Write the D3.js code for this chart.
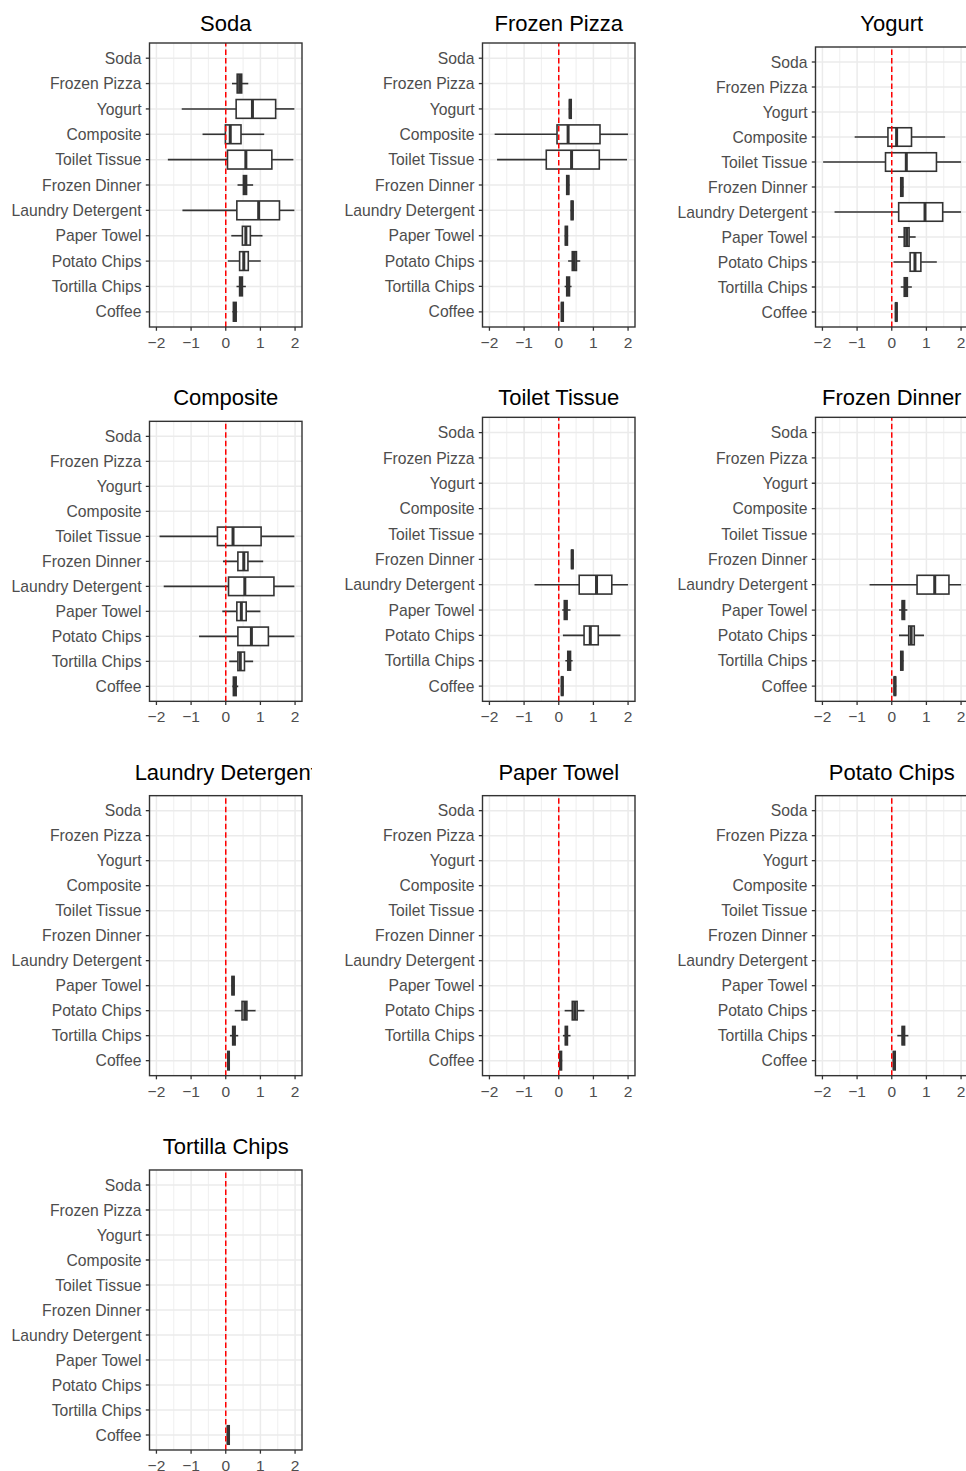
<!DOCTYPE html>
<html>
<head>
<meta charset="utf-8">
<script src="https://cdn.jsdelivr.net/npm/d3@7"></script>
<style>
  html, body { margin: 0; padding: 0; background: #ffffff; }
  svg { display: block; }
</style>
</head>
<body>
<div id="chart"></div>
<script>
// Categories shown on every panel's y axis, top to bottom
const products = ["Soda", "Frozen Pizza", "Yogurt", "Composite", "Toilet Tissue",
  "Frozen Dinner", "Laundry Detergent", "Paper Towel", "Potato Chips",
  "Tortilla Chips", "Coffee"];

// Panel titles, in reading order
const panelTitles = ["Soda", "Frozen Pizza", "Yogurt", "Composite", "Toilet Tissue",
  "Frozen Dinner", "Laundry Detergent", "Paper Towel", "Potato Chips", "Tortilla Chips"];

const xTicks = [-2, -1, 0, 1, 2];
const xMinor = [-1.5, -0.5, 0.5, 1.5];

// Box statistics per panel: [category, lower whisker, Q1, median, Q3, upper whisker]
const sodaStats = [
  ["Frozen Pizza", 0.18, 0.33, 0.40, 0.46, 0.65],
  ["Yogurt", -1.27, 0.30, 0.77, 1.44, 1.98],
  ["Composite", -0.67, -0.01, 0.13, 0.44, 1.11],
  ["Toilet Tissue", -1.67, 0.05, 0.58, 1.33, 1.95],
  ["Frozen Dinner", 0.34, 0.51, 0.56, 0.60, 0.79],
  ["Laundry Detergent", -1.25, 0.32, 0.95, 1.55, 1.98],
  ["Paper Towel", 0.16, 0.48, 0.58, 0.71, 1.06],
  ["Potato Chips", 0.06, 0.40, 0.52, 0.65, 1.01],
  ["Tortilla Chips", 0.31, 0.40, 0.44, 0.48, 0.58],
  ["Coffee", 0.19, 0.22, 0.26, 0.30, 0.33]
];
const frozenPizzaStats = [
  ["Yogurt", 0.29, 0.31, 0.33, 0.36, 0.38],
  ["Composite", -1.85, -0.05, 0.27, 1.19, 2.00],
  ["Toilet Tissue", -1.78, -0.36, 0.37, 1.17, 1.97],
  ["Frozen Dinner", 0.21, 0.23, 0.26, 0.29, 0.31],
  ["Laundry Detergent", 0.34, 0.36, 0.39, 0.41, 0.43],
  ["Paper Towel", 0.17, 0.19, 0.22, 0.25, 0.27],
  ["Potato Chips", 0.27, 0.39, 0.45, 0.51, 0.62],
  ["Tortilla Chips", 0.17, 0.23, 0.27, 0.31, 0.37],
  ["Coffee", 0.06, 0.08, 0.10, 0.13, 0.15]
];
const yogurtStats = [
  ["Composite", -1.07, -0.11, 0.14, 0.57, 1.54],
  ["Toilet Tissue", -1.98, -0.18, 0.42, 1.29, 2.00],
  ["Frozen Dinner", 0.24, 0.26, 0.29, 0.32, 0.34],
  ["Laundry Detergent", -1.65, 0.20, 0.96, 1.47, 2.00],
  ["Paper Towel", 0.18, 0.36, 0.43, 0.50, 0.69],
  ["Potato Chips", 0.05, 0.53, 0.67, 0.84, 1.30],
  ["Tortilla Chips", 0.26, 0.36, 0.40, 0.45, 0.58],
  ["Coffee", 0.09, 0.11, 0.13, 0.15, 0.17]
];
const compositeStats = [
  ["Toilet Tissue", -1.91, -0.24, 0.21, 1.02, 1.98],
  ["Frozen Dinner", -0.08, 0.35, 0.52, 0.64, 1.08],
  ["Laundry Detergent", -1.79, 0.08, 0.55, 1.39, 1.98],
  ["Paper Towel", -0.10, 0.32, 0.45, 0.59, 1.00],
  ["Potato Chips", -0.77, 0.35, 0.74, 1.23, 1.98],
  ["Tortilla Chips", 0.10, 0.35, 0.42, 0.54, 0.79],
  ["Coffee", 0.19, 0.22, 0.26, 0.30, 0.36]
];
const toiletTissueStats = [
  ["Frozen Dinner", 0.35, 0.37, 0.39, 0.41, 0.43],
  ["Laundry Detergent", -0.70, 0.59, 1.09, 1.53, 2.00],
  ["Paper Towel", 0.10, 0.16, 0.20, 0.24, 0.34],
  ["Potato Chips", 0.12, 0.73, 0.91, 1.14, 1.78],
  ["Tortilla Chips", 0.19, 0.26, 0.30, 0.34, 0.40],
  ["Coffee", 0.06, 0.08, 0.10, 0.12, 0.14]
];
const frozenDinnerStats = [
  ["Laundry Detergent", -0.64, 0.73, 1.24, 1.65, 2.00],
  ["Paper Towel", 0.21, 0.30, 0.33, 0.37, 0.45],
  ["Potato Chips", 0.21, 0.49, 0.56, 0.65, 0.93],
  ["Tortilla Chips", 0.24, 0.26, 0.29, 0.32, 0.34],
  ["Coffee", 0.05, 0.07, 0.09, 0.11, 0.13]
];
const laundryDetergentStats = [
  ["Paper Towel", 0.16, 0.18, 0.21, 0.24, 0.26],
  ["Potato Chips", 0.26, 0.47, 0.55, 0.61, 0.86],
  ["Tortilla Chips", 0.12, 0.20, 0.23, 0.27, 0.36],
  ["Coffee", 0.04, 0.06, 0.08, 0.10, 0.12]
];
const paperTowelStats = [
  ["Potato Chips", 0.17, 0.39, 0.46, 0.53, 0.74],
  ["Tortilla Chips", 0.12, 0.19, 0.22, 0.25, 0.34],
  ["Coffee", 0.01, 0.03, 0.05, 0.08, 0.10]
];
const potatoChipsStats = [
  ["Tortilla Chips", 0.16, 0.30, 0.33, 0.37, 0.48],
  ["Coffee", 0.03, 0.05, 0.07, 0.10, 0.12]
];
const tortillaChipsStats = [
  ["Coffee", 0.03, 0.05, 0.07, 0.10, 0.12]
];

const panelStats = [sodaStats, frozenPizzaStats, yogurtStats, compositeStats,
  toiletTissueStats, frozenDinnerStats, laundryDetergentStats, paperTowelStats,
  potatoChipsStats, tortillaChipsStats];

// ---- layout ----
const W = 966, H = 1471;
const colStep = 333, rowStep = 374.33;
const cellWidth = 312;
const panelLeft = 149.5, panelWidth = 152.5;
const panelBottom = 327;
const fontFamily = "'Liberation Sans', Arial, Helvetica, sans-serif";
const ink = "#333333", labelInk = "#4D4D4D", gridInk = "#EBEBEB";

const svg = d3.select("#chart").append("svg")
  .attr("width", W).attr("height", H)
  .attr("viewBox", `0 0 ${W} ${H}`);
svg.append("rect").attr("width", W).attr("height", H).attr("fill", "#ffffff");

const defs = svg.append("defs");

// titles with descenders are taller, which shortens the panel a little
const hasDescender = t => /[gjpqy]/.test(t);

panelTitles.forEach((title, i) => {
  const col = i % 3, row = Math.floor(i / 3);
  const ox = col * colStep, oy = row * rowStep;
  const top = oy + (hasDescender(title) ? 47 : 43);
  const bottom = oy + panelBottom;
  const left = ox + panelLeft, right = left + panelWidth;

  defs.append("clipPath").attr("id", "cell" + i)
    .append("rect").attr("x", ox).attr("y", oy).attr("width", cellWidth).attr("height", rowStep);

  const g = svg.append("g").attr("clip-path", `url(#cell${i})`);

  const x = d3.scaleLinear().domain([-2.2, 2.2]).range([left, right]);
  const y = d3.scalePoint().domain(products).range([top, bottom]).padding(0.6);
  const step = y.step();

  // grid
  g.append("g").selectAll("line").data(xMinor).join("line")
    .attr("x1", d => x(d)).attr("x2", d => x(d))
    .attr("y1", top).attr("y2", bottom)
    .attr("stroke", gridInk).attr("stroke-width", 0.8);
  g.append("g").selectAll("line").data(xTicks).join("line")
    .attr("x1", d => x(d)).attr("x2", d => x(d))
    .attr("y1", top).attr("y2", bottom)
    .attr("stroke", gridInk).attr("stroke-width", 1.5);
  g.append("g").selectAll("line").data(products).join("line")
    .attr("x1", left).attr("x2", right)
    .attr("y1", d => y(d)).attr("y2", d => y(d))
    .attr("stroke", gridInk).attr("stroke-width", 1.5);

  // boxplots
  const half = step * 0.37;
  const boxes = g.append("g").selectAll("g").data(panelStats[i]).join("g");
  boxes.append("line")
    .attr("x1", d => x(d[1])).attr("x2", d => x(d[2]))
    .attr("y1", d => y(d[0])).attr("y2", d => y(d[0]))
    .attr("stroke", ink).attr("stroke-width", 1.6);
  boxes.append("line")
    .attr("x1", d => x(d[4])).attr("x2", d => x(d[5]))
    .attr("y1", d => y(d[0])).attr("y2", d => y(d[0]))
    .attr("stroke", ink).attr("stroke-width", 1.6);
  boxes.append("rect")
    .attr("x", d => x(d[2])).attr("width", d => x(d[4]) - x(d[2]))
    .attr("y", d => y(d[0]) - half).attr("height", 2 * half)
    .attr("fill", "#ffffff").attr("stroke", ink).attr("stroke-width", 1.6);
  boxes.append("line")
    .attr("x1", d => x(d[3])).attr("x2", d => x(d[3]))
    .attr("y1", d => y(d[0]) - half).attr("y2", d => y(d[0]) + half)
    .attr("stroke", ink).attr("stroke-width", 3);

  // reference line at zero, drawn bottom to top
  g.append("line")
    .attr("x1", x(0)).attr("x2", x(0))
    .attr("y1", bottom).attr("y2", top)
    .attr("stroke", "#FF0000").attr("stroke-width", 1.5)
    .attr("stroke-dasharray", "5.5,3");

  // panel border
  g.append("rect")
    .attr("x", left).attr("y", top).attr("width", panelWidth).attr("height", bottom - top)
    .attr("fill", "none").attr("stroke", ink).attr("stroke-width", 1.4);

  // y axis
  const ya = g.append("g");
  ya.selectAll("line").data(products).join("line")
    .attr("x1", left - 3.7).attr("x2", left)
    .attr("y1", d => y(d)).attr("y2", d => y(d))
    .attr("stroke", ink).attr("stroke-width", 1.3);
  ya.selectAll("text").data(products).join("text")
    .attr("x", left - 8).attr("y", d => y(d)).attr("dy", "0.36em")
    .attr("text-anchor", "end")
    .attr("font-family", fontFamily).attr("font-size", 15.7)
    .attr("fill", labelInk).text(d => d);

  // x axis
  const xa = g.append("g");
  xa.selectAll("line").data(xTicks).join("line")
    .attr("x1", d => x(d)).attr("x2", d => x(d))
    .attr("y1", bottom).attr("y2", bottom + 3.7)
    .attr("stroke", ink).attr("stroke-width", 1.3);
  xa.selectAll("text").data(xTicks).join("text")
    .attr("x", d => x(d)).attr("y", bottom + 21)
    .attr("text-anchor", "middle")
    .attr("font-family", fontFamily).attr("font-size", 15.5)
    .attr("fill", labelInk).text(d => d3.format("d")(d).replace("-", "\u2212"));

  // title
  g.append("text")
    .attr("x", (left + right) / 2).attr("y", oy + 31)
    .attr("text-anchor", "middle")
    .attr("font-family", fontFamily).attr("font-size", 22)
    .attr("fill", "#000000").text(title);
});
</script>
</body>
</html>
